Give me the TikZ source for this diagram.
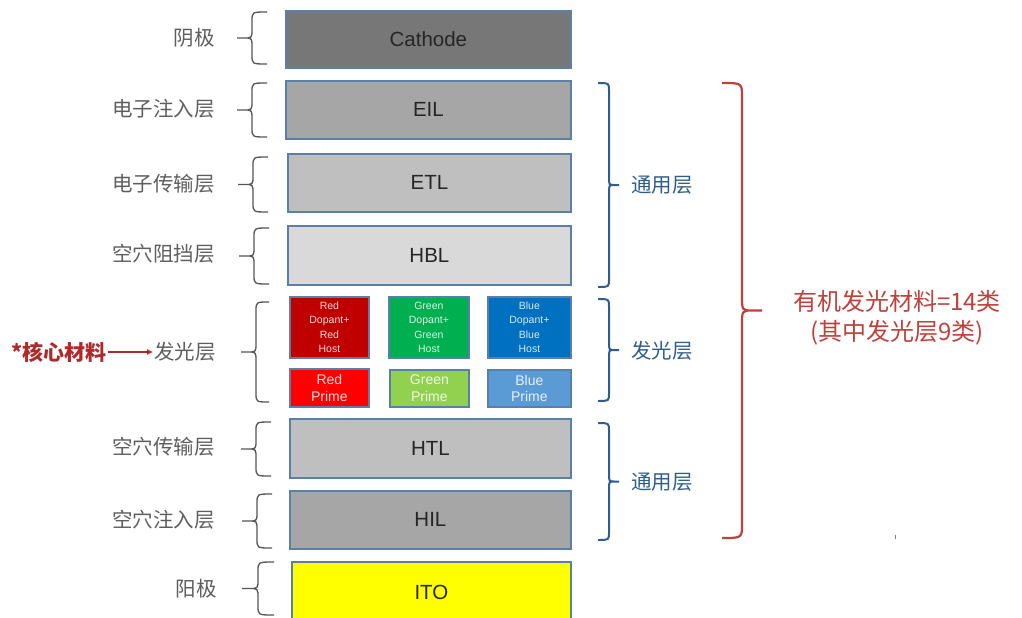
\documentclass[tikz,border=0pt]{standalone}
\usepackage{fontspec}
\setmainfont{Liberation Sans}
\newfontfamily\cjk{Noto Sans CJK SC}
\usetikzlibrary{arrows.meta}

\definecolor{edgeblue}{HTML}{5A7FAA}
\definecolor{labgray}{HTML}{5E5E5E}
\definecolor{bracegray}{HTML}{555555}
\definecolor{groupblue}{HTML}{2F5D8C}
\definecolor{groupred}{HTML}{C0413C}
\definecolor{corered}{HTML}{B0282A}
\definecolor{cathodegray}{HTML}{777777}
\definecolor{midgray}{HTML}{A6A6A6}
\definecolor{lightgray}{HTML}{BFBFBF}
\definecolor{palegray}{HTML}{D9D9D9}
\definecolor{anodeyellow}{HTML}{FFFF00}
\definecolor{hostred}{HTML}{C00000}
\definecolor{hostgreen}{HTML}{00B050}
\definecolor{hostblue}{HTML}{0070C0}
\definecolor{primered}{HTML}{FF0000}
\definecolor{primegreen}{HTML}{92D050}
\definecolor{primeblue}{HTML}{5B9BD5}

% curly brace: style, arm end x, spine x, tip x, top y, bottom y, curl radius
\newcommand\layerbrace[7]{%
  \pgfmathsetmacro\bym{(#5+#6)/2}%
  \pgfmathsetmacro\byc{#3+(#4-#3)*0.55}%
  \draw[#1] (#2,#5) .. controls (#3,#5) .. (#3,{#5+#7})
    -- (#3,{\bym-#7}) .. controls (#3,\bym) .. (\byc,\bym) -- (#4,\bym)
    -- (\byc,\bym) .. controls (#3,\bym) .. (#3,{\bym+#7})
    -- (#3,{#6-#7}) .. controls (#3,#6) .. (#2,#6);}

\begin{document}
\begin{tikzpicture}[x=1pt,y=-1pt,
  layer/.style={draw=edgeblue, line width=1.8pt, rectangle, inner sep=0pt,
    anchor=north west, text=black!85, font=\fontsize{20.5}{20.5}\selectfont},
  host/.style={layer, text=white, text opacity=0.85, align=center,
    font=\fontsize{10.5}{14.5}\selectfont},
  prime/.style={layer, text=white, text opacity=0.85, align=center,
    font=\fontsize{14}{16.5}\selectfont},
  lab/.style={anchor=east, inner sep=1pt, text=labgray,
    font=\cjk\fontsize{20.5}{20.5}\selectfont},
  grp/.style={anchor=west, inner sep=1pt, text=groupblue,
    font=\cjk\fontsize{20.5}{20.5}\selectfont},
  graybrace/.style={draw=bracegray, line width=1.3pt},
  bluebrace/.style={draw=groupblue, line width=2pt},
  redbrace/.style={draw=groupred, line width=2.2pt}]

\useasboundingbox (0,0) rectangle (1022,618);

% device stack
\node[layer, fill=cathodegray, minimum width=285, minimum height=57] (cathode) at (285,10) {Cathode};
\node[layer, fill=midgray, minimum width=285, minimum height=58] (eil) at (285,80) {EIL};
\node[layer, fill=lightgray, minimum width=283, minimum height=58] (etl) at (287,153) {ETL};
\node[layer, fill=palegray, minimum width=283, minimum height=59] (hbl) at (287,225) {HBL};

\node[host, fill=hostred, minimum width=79, minimum height=61] (rhost) at (289,296) {Red\\Dopant+\\Red\\Host};
\node[host, fill=hostgreen, minimum width=80, minimum height=61] (ghost) at (388,296) {Green\\Dopant+\\Green\\Host};
\node[host, fill=hostblue, minimum width=83, minimum height=61] (bhost) at (487,296) {Blue\\Dopant+\\Blue\\Host};
\node[prime, fill=primered, minimum width=79, minimum height=38] (rprime) at (289,368) {Red\\Prime};
\node[prime, fill=primegreen, minimum width=79, minimum height=37] (gprime) at (389,369) {Green\\Prime};
\node[prime, fill=primeblue, minimum width=83, minimum height=37] (bprime) at (487,369) {Blue\\Prime};

\node[layer, fill=lightgray, minimum width=281, minimum height=59] (htl) at (289,418) {HTL};
\node[layer, fill=midgray, minimum width=281, minimum height=58] (hil) at (289,490) {HIL};
\node[layer, fill=anodeyellow, minimum width=279, minimum height=62] (ito) at (291,561) {ITO};

% layer names
\node[lab] (lcath) at (216,38) {阴极};
\node[lab] (leil) at (216,109) {电子注入层};
\node[lab] (letl) at (216,184) {电子传输层};
\node[lab] (lhbl) at (216,254) {空穴阻挡层};
\node[lab] (lemit) at (217,352) {发光层};
\node[lab] (lhtl) at (216,447) {空穴传输层};
\node[lab] (lhil) at (216,520) {空穴注入层};
\node[lab] (lito) at (218,589) {阳极};

\node[anchor=east, inner sep=1pt, text=corered, font=\cjk\bfseries\fontsize{21}{21}\selectfont] (core) at (108,352) {*核心材料};
\draw[-{Latex[length=6pt,width=6pt]}, draw=corered, fill=corered, line width=1.5pt] (core.east) -- (lemit.west);

% braces on the left
\layerbrace{graybrace}{267}{252}{237}{12}{64}{9}
\layerbrace{graybrace}{267}{252}{237}{83}{137}{9}
\layerbrace{graybrace}{268}{253}{238}{157}{212}{9}
\layerbrace{graybrace}{269}{254}{239}{228}{284}{9}
\layerbrace{graybrace}{269}{256}{241}{302}{402}{9}
\layerbrace{graybrace}{271}{256}{241}{422}{476}{9}
\layerbrace{graybrace}{272}{257}{242}{494}{548}{9}
\layerbrace{graybrace}{274}{258}{242}{562}{615}{9}

% group braces on the right
\layerbrace{bluebrace}{598}{609}{619}{83}{287}{8}
\layerbrace{bluebrace}{598}{609}{619}{299}{401}{8}
\layerbrace{bluebrace}{598}{609}{619}{423}{540}{8}
\node[grp] (gcommon1) at (630,185) {通用层};
\node[grp] (gemit) at (630,351) {发光层};
\node[grp] (gcommon2) at (630,482) {通用层};

\layerbrace{redbrace}{722}{742}{762}{83}{538}{14}
\node[align=center, text=groupred, font=\cjk\fontsize{24}{30}\selectfont] (total) at (897,318) {有机发光材料=14类\\(其中发光层9类)};

\draw[draw=gray, line width=0.8pt] (895,535) -- (895,539);
\end{tikzpicture}
\end{document}
